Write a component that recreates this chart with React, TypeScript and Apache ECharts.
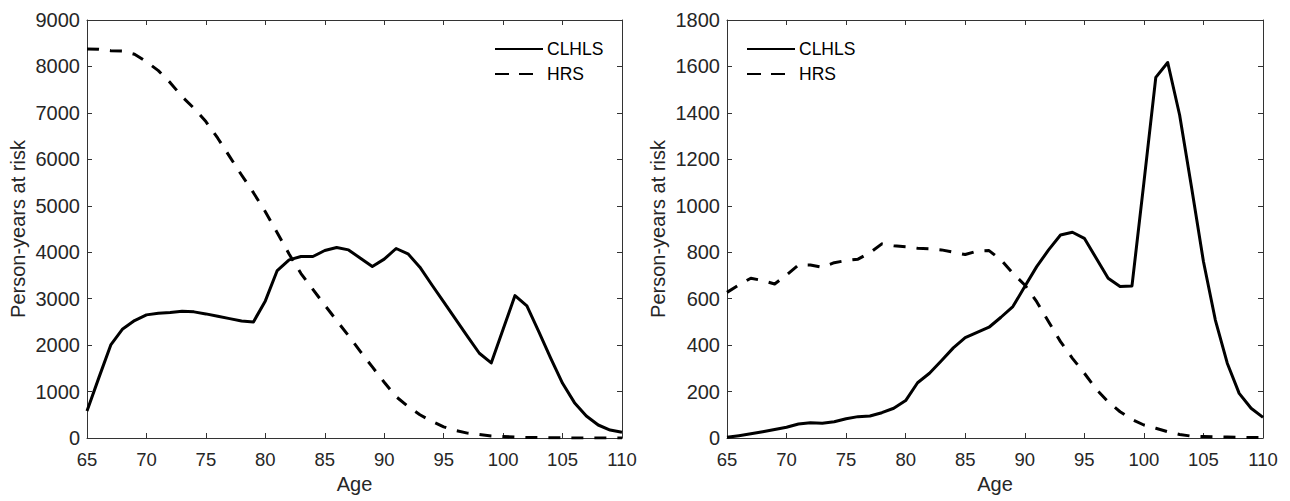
import React, { useEffect, useRef } from "react";
import * as echarts from "echarts";

const ages = [65, 66, 67, 68, 69, 70, 71, 72, 73, 74, 75, 76, 77, 78, 79, 80, 81, 82, 83, 84, 85, 86, 87, 88, 89, 90, 91, 92, 93, 94, 95, 96, 97, 98, 99, 100, 101, 102, 103, 104, 105, 106, 107, 108, 109, 110];

const leftCLHLS = [582, 1300, 2004, 2349, 2529, 2651, 2687, 2700, 2730, 2716, 2672, 2620, 2570, 2520, 2500, 2952, 3606, 3836, 3908, 3908, 4037, 4100, 4050, 3870, 3692, 3851, 4080, 3965, 3678, 3300, 2930, 2560, 2190, 1825, 1616, 2340, 3067, 2845, 2290, 1720, 1178, 761, 474, 280, 172, 122];
const leftHRS = [8376, 8370, 8340, 8330, 8262, 8103, 7909, 7651, 7350, 7099, 6812, 6455, 6059, 5663, 5282, 4873, 4420, 3960, 3540, 3200, 2860, 2530, 2200, 1860, 1530, 1200, 890, 680, 500, 360, 240, 160, 105, 75, 45, 30, 20, 12, 8, 5, 3, 2, 1, 1, 0, 0];

const rightCLHLS = [3, 10, 18, 27, 37, 46, 60, 66, 64, 70, 83, 92, 95, 109, 128, 161, 238, 279, 333, 388, 432, 455, 477, 520, 566, 652, 738, 810, 874, 886, 860, 774, 688, 652, 655, 1100, 1553, 1617, 1391, 1080, 760, 508, 322, 192, 128, 89];
const rightHRS = [627, 659, 688, 678, 663, 702, 745, 745, 735, 755, 764, 770, 798, 836, 828, 824, 817, 815, 810, 800, 790, 805, 807, 767, 709, 659, 587, 501, 415, 343, 279, 210, 156, 113, 80, 56, 42, 27, 15, 8, 6, 5, 4, 3, 2, 2];

const seriesNames = ["CLHLS", "HRS"];
const xLabel = "Age";
const yLabel = "Person-years at risk";

const FONT = "'Liberation Sans', Arial, Helvetica, sans-serif";
const TXT = "#262626";
const AX = "#333333";

function pairs(vals: number[]) {
  return ages.map((a, i) => [a, vals[i]]);
}

export default function App() {
  const ref = useRef<HTMLDivElement>(null);
  useEffect(() => {
    document.body.style.margin = "0";
    if (!ref.current) return;
    const chart = echarts.init(ref.current, undefined, { renderer: "svg" });
    const grids = [
      { left: 87, right: 668, top: 20, bottom: 63 },
      { left: 727, right: 27, top: 20, bottom: 63 },
    ];
    const yMax = [9000, 1800];
    const yInt = [1000, 200];
    const xAxes: any[] = [];
    const yAxes: any[] = [];
    const plain = (v: number) => String(v);
    [0, 1].forEach((g) => {
      xAxes.push({
        type: "value", gridIndex: g, min: 65, max: 110, interval: 5, position: "bottom",
        name: xLabel, nameLocation: "middle", nameGap: 36,
        nameTextStyle: { fontFamily: FONT, fontSize: 20, color: TXT },
        axisLine: { show: true, onZero: false, lineStyle: { color: AX, width: 1 } },
        axisTick: { show: true, inside: true, length: 5, lineStyle: { color: AX } },
        axisLabel: { show: true, margin: 12, fontFamily: FONT, fontSize: 18.5, color: TXT, formatter: plain },
        splitLine: { show: false },
      });
      xAxes.push({
        type: "value", gridIndex: g, min: 65, max: 110, interval: 5, position: "top",
        axisLine: { show: true, onZero: false, lineStyle: { color: AX, width: 1 } },
        axisTick: { show: true, inside: true, length: 5, lineStyle: { color: AX } },
        axisLabel: { show: false },
        splitLine: { show: false },
      });
      yAxes.push({
        type: "value", gridIndex: g, min: 0, max: yMax[g], interval: yInt[g], position: "left",
        name: yLabel, nameLocation: "middle", nameGap: 59,
        nameTextStyle: { fontFamily: FONT, fontSize: 20, color: TXT },
        axisLine: { show: true, onZero: false, lineStyle: { color: AX, width: 1 } },
        axisTick: { show: true, inside: true, length: 5, lineStyle: { color: AX } },
        axisLabel: { show: true, margin: 7, fontFamily: FONT, fontSize: 20, color: TXT, formatter: plain },
        splitLine: { show: false },
      });
      yAxes.push({
        type: "value", gridIndex: g, min: 0, max: yMax[g], interval: yInt[g], position: "right",
        axisLine: { show: true, onZero: false, lineStyle: { color: AX, width: 1 } },
        axisTick: { show: true, inside: true, length: 5, lineStyle: { color: AX } },
        axisLabel: { show: false },
        splitLine: { show: false },
      });
    });
    const mk = (name: string, data: number[], g: number, dashed: boolean) => ({
      name, type: "line", xAxisIndex: g * 2, yAxisIndex: g * 2, data: pairs(data),
      symbol: "none", showSymbol: false, smooth: false,
      lineStyle: { color: "#000", width: 3, type: dashed ? [12, 11] : "solid", cap: "butt", join: "round" },
      itemStyle: { color: "#000" },
    });
    const legendCommon = {
      orient: "vertical", itemWidth: 48, itemHeight: 14, itemGap: 7,
      textStyle: { fontFamily: FONT, fontSize: 17.5, color: "#000", padding: [0, 0, 0, -1] },
      itemStyle: { color: "rgba(0,0,0,0)", borderWidth: 0, opacity: 0 },
      selectedMode: false, padding: 0,
      data: [
        { name: seriesNames[0] },
        { name: seriesNames[1], lineStyle: { type: [14, 10] } },
      ],
    };
    chart.setOption({
      animation: false,
      backgroundColor: "#fff",
      grid: grids,
      xAxis: xAxes,
      yAxis: yAxes,
      legend: [
        { ...legendCommon, left: 494, top: 40 },
        { ...legendCommon, left: 746, top: 40 },
      ],
      series: [
        mk(seriesNames[0], leftCLHLS, 0, false),
        mk(seriesNames[1], leftHRS, 0, true),
        mk(seriesNames[0], rightCLHLS, 1, false),
        mk(seriesNames[1], rightHRS, 1, true),
      ],
    });
    return () => chart.dispose();
  }, []);
  return <div ref={ref} style={{ width: 1290, height: 501 }} />;
}
